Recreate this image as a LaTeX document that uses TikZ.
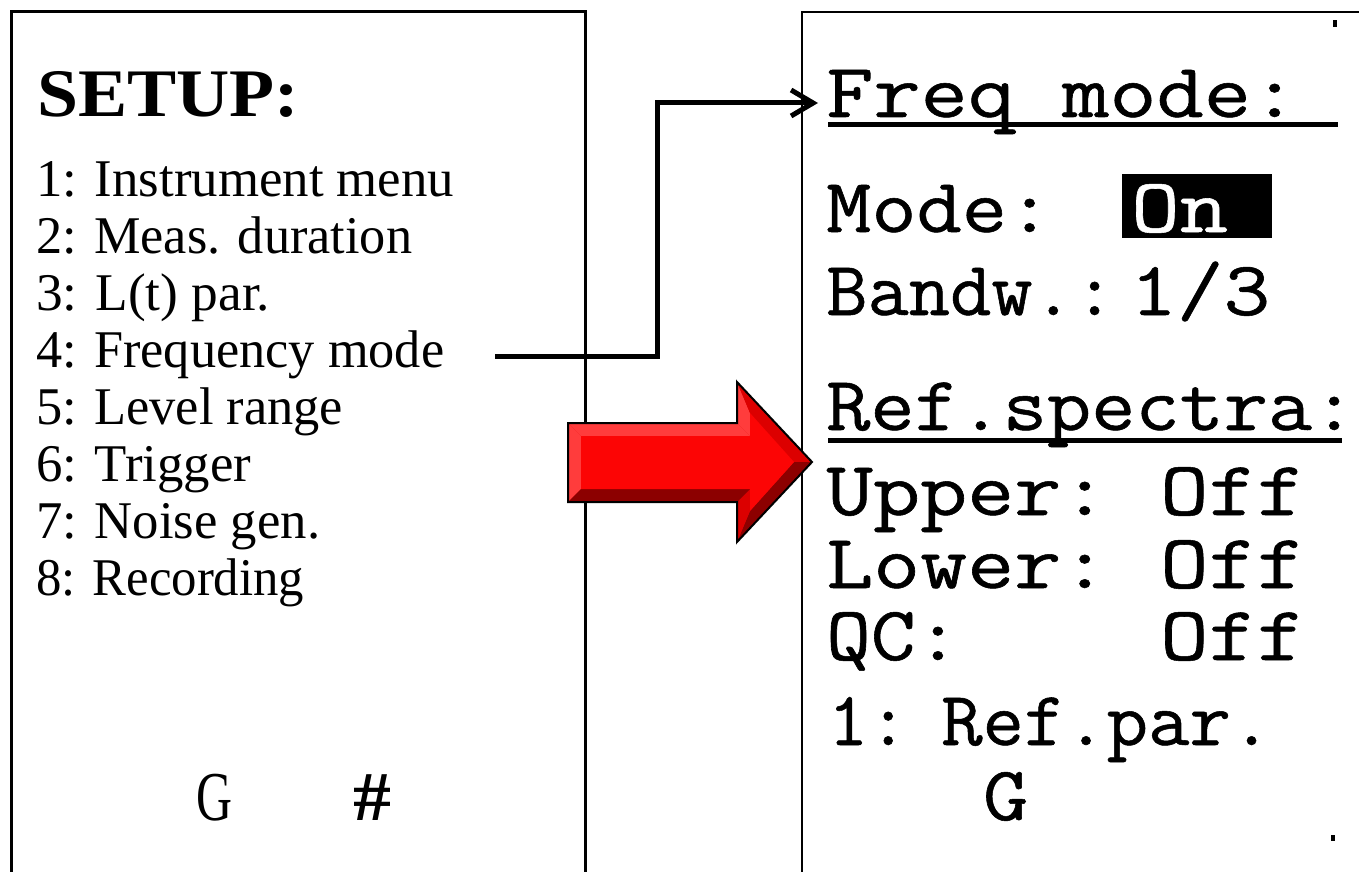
\documentclass[tikz,border=0pt]{standalone}
\usepackage{fontspec}
\setmainfont{Liberation Serif}
\newfontfamily\rfont[FakeBold=0.7]{Latin Modern Mono}
\usepackage{graphicx}
\usetikzlibrary{arrows.meta,calc}
\newcommand{\fitw}[2]{\resizebox{#1}{\height}{#2}}
\definecolor{arF}{RGB}{252,5,5}
\definecolor{arL}{RGB}{255,60,60}
\definecolor{arM}{RGB}{220,0,0}
\definecolor{arD}{RGB}{140,0,0}
\tikzset{
 lt/.style={anchor=base west, inner sep=0pt, font=\fontsize{53}{60}\selectfont},
 lh/.style={anchor=base west, inner sep=0pt, font=\bfseries\fontsize{68}{72}\selectfont},
 rt/.style={anchor=base west, inner sep=0pt, font=\rfont\fontsize{77}{80}\selectfont},
 panel/.style={draw=black, line width=3pt},
 conn/.style={line width=5pt, line join=miter, -{Straight Barb[length=22pt,width=26pt]}},
 uline/.style={line width=5pt},
}
\begin{document}
\begin{tikzpicture}[x=1pt,y=-1pt]
\useasboundingbox (0,0) rectangle (1359,872);
\clip (0,0) rectangle (1359,872);
\fill[white] (0,0) rectangle (1359,872);
% panels
\draw[panel] (11,12) rectangle (585,900);
\draw[panel, line width=2.5pt] (802,900) -- (802,12) -- (1400,12);
% left text
\node[lh] (title) at (37,117) {\fitw{262pt}{SETUP:}};
\node[lt] (l1) at (36,196) {\fitw{418pt}{1: Instrument menu}};
\node[lt] (l2) at (36,253) {\fitw{376pt}{2: Meas. duration}};
\node[lt] (l3) at (36,310) {\fitw{234pt}{3: L(t) par.}};
\node[lt] (l4) at (36,367) {\fitw{408pt}{4: Frequency mode}};
\node[lt] (l5) at (36,424) {\fitw{307pt}{5: Level range}};
\node[lt] (l6) at (36,481) {\fitw{215pt}{6: Trigger}};
\node[lt] (l7) at (36,538) {\fitw{284pt}{7: Noise gen.}};
\node[lt] (l8) at (36,595) {\fitw{268pt}{8: Recording}};
\node[lt, font=\fontsize{70}{72}\selectfont] (g1) at (196,820) {\fitw{36pt}{G}};
\node[lt, font=\bfseries\fontsize{70}{72}\selectfont] (hash) at (353,820) {\fitw{38pt}{\#}};
% right text
\node[rt] (r1) at (826,117) {\fitw{472pt}{Freq mode:}};
\draw[uline] (828,125) -- (1338,125);
\fill[black] (1122,174) rectangle (1272,238);
\node[rt] (r2) at (826,232) {\fitw{226pt}{Mode:}};
\node[rt, text=white] (on) at (1131,232) {\fitw{97pt}{On}};
\node[rt] (r3) at (826,315) {\fitw{289pt}{Bandw.:}};
\node[rt] (r3b) at (1130,315) {\fitw{140pt}{1/3}};
\node[rt] (r4) at (826,430) {\fitw{530pt}{Ref.spectra:}};
\draw[uline] (828,440) -- (1342,440);
\node[rt] (r5) at (826,515) {\fitw{282pt}{Upper:}};
\node[rt] (o1) at (1160,515) {\fitw{145pt}{Off}};
\node[rt] (r6) at (826,588) {\fitw{282pt}{Lower:}};
\node[rt] (o2) at (1160,588) {\fitw{145pt}{Off}};
\node[rt] (r7) at (826,660) {\fitw{134pt}{QC:}};
\node[rt] (o3) at (1160,660) {\fitw{145pt}{Off}};
\node[rt] (r8) at (828,745) {\fitw{80pt}{1:}};
\node[rt] (r8b) at (941,745) {\fitw{331pt}{Ref.par.}};
\node[rt] (g2) at (983,820) {\fitw{45pt}{G}};
\fill[black] (1333,20) rectangle (1337,27);
\fill[black] (1331,835) rectangle (1335,841);
% connector
\coordinate (s) at ($(l4.base east)+(51,-11)$);
\coordinate (t) at ($(r1.base west)+(-8,-14)$);
\draw[conn] (s) -| (657,103) -- (t);
% red arrow
\coordinate (A) at (568,423); \coordinate (B) at (737,423);
\coordinate (C) at (737,382); \coordinate (D) at (812,462);
\coordinate (E) at (737,542); \coordinate (F) at (737,502);
\coordinate (G) at (568,502);
\coordinate (a) at (581,436); \coordinate (b) at (750,436);
\coordinate (c) at (750,413); \coordinate (d) at (794,462);
\coordinate (e) at (750,511); \coordinate (f) at (750,489);
\coordinate (g) at (581,489);
\begin{scope}[shift={(8,8)}]
 \fill[black, opacity=0.12] (A) -- (B) -- (C) -- (D) -- (E) -- (F) -- (G) -- cycle;
\end{scope}
\begin{scope}[shift={(4,4)}]
 \fill[black, opacity=0.25] (A) -- (B) -- (C) -- (D) -- (E) -- (F) -- (G) -- cycle;
\end{scope}
\fill[arM] (A) -- (B) -- (C) -- (D) -- (E) -- (F) -- (G) -- cycle;
\fill[arL] (A) -- (B) -- (b) -- (a) -- cycle;
\fill[arL] (A) -- (a) -- (g) -- (G) -- cycle;
\fill[arL] (B) -- (C) -- (c) -- (b) -- cycle;
\fill[arM] (C) -- (D) -- (d) -- (c) -- cycle;
\fill[arD] (D) -- (E) -- (e) -- (d) -- cycle;
\fill[arM] (E) -- (F) -- (f) -- (e) -- cycle;
\fill[arD] (F) -- (G) -- (g) -- (f) -- cycle;
\fill[arF] (a) -- (b) -- (c) -- (d) -- (e) -- (f) -- (g) -- cycle;
\draw[black, line width=2pt, line join=miter] (A) -- (B) -- (C) -- (D) -- (E) -- (F) -- (G) -- cycle;
\end{tikzpicture}
\end{document}
